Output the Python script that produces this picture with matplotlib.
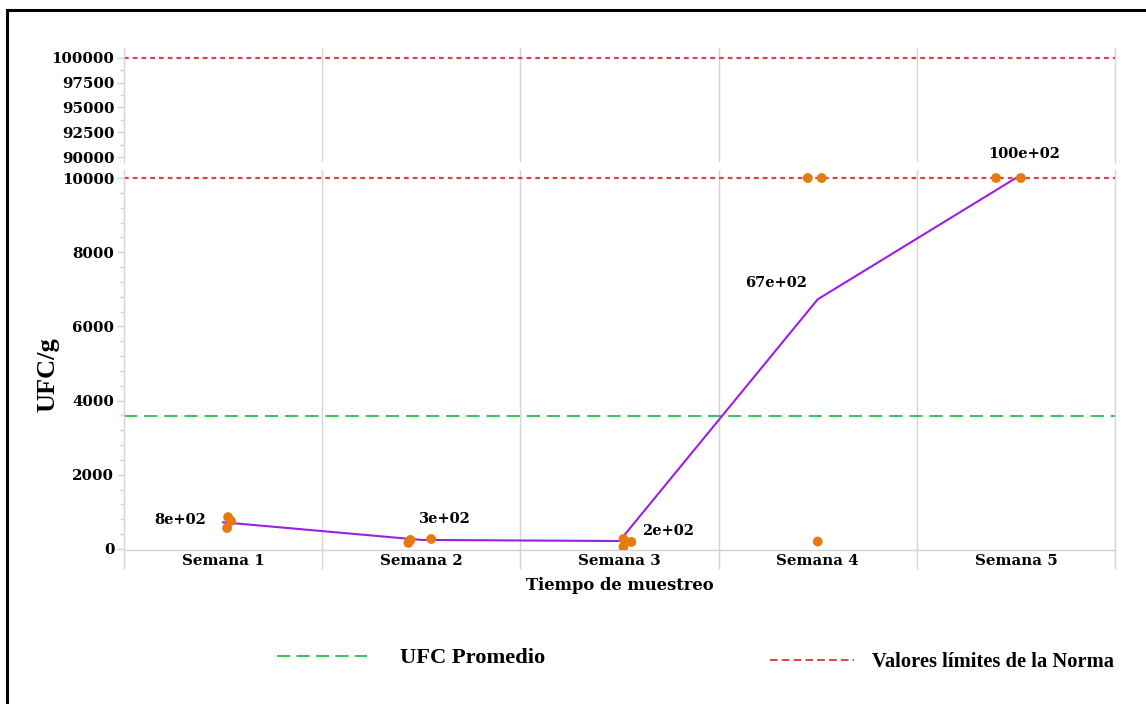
import matplotlib
matplotlib.use("Agg")
import matplotlib.pyplot as plt
from matplotlib.ticker import FixedLocator, MultipleLocator
from matplotlib.patches import Rectangle
from matplotlib.lines import Line2D
import numpy as np

# ---------------- data ----------------
semanas = ["Semana 1", "Semana 2", "Semana 3", "Semana 4", "Semana 5"]
promedio_ufc = [720, 245, 215, 6730, 10000]
etiquetas = ["8e+02", "3e+02", "2e+02", "67e+02", "100e+02"]
muestra_semana = [1, 1, 1, 2, 2, 2, 3, 3, 3, 4, 4, 4, 5, 5]
muestra_ufc = [860, 755, 565, 245, 165, 270, 270, 190, 55, 10000, 10000, 200, 10000, 10000]
muestra_jitter = [0.025, 0.04, 0.02, -0.055, -0.065, 0.05, 0.02, 0.06, 0.02,
                  -0.05, 0.02, 0.0, -0.1, 0.025]
limites_norma = [10000, 100000]
ticks_inf = [0, 2000, 4000, 6000, 8000, 10000]
ticks_sup = [90000, 92500, 95000, 97500, 100000]

ufc_promedio_global = float(np.mean(promedio_ufc))

# ---------------- style ----------------
plt.rcParams["lines.scale_dashes"] = False
W, H = 1146, 704
fig = plt.figure(figsize=(W / 100, H / 100), dpi=100)

def fx(px):
    return px / W

def fy(py):
    return 1 - py / H

GRID = "#D4D4D4"
RED = "#E0404E"
GREEN = "#3DC45A"
PURPLE = "#9B1FE0"
ORANGE = "#E8790E"
TICKFONT = dict(family="DejaVu Serif", weight="bold", size=10.8)

left, right = 124, 1115
ax_top = fig.add_axes([fx(left), fy(162), fx(right) - fx(left), fy(48) - fy(162)])
ax_bot = fig.add_axes([fx(left), fy(550), fx(right) - fx(left), fy(170) - fy(550)])

cats = np.arange(1, len(semanas) + 1)
mx = np.array(muestra_semana) + np.array(muestra_jitter)

for ax in (ax_top, ax_bot):
    ax.set_xlim(0.5, len(semanas) + 0.5)
    ax.spines["top"].set_visible(False)
    for s in ("left", "right", "bottom"):
        ax.spines[s].set_color(GRID)
        ax.spines[s].set_linewidth(1.0)
    for v in np.arange(1.5, len(semanas), 1.0):
        ax.axvline(v, color=GRID, lw=1.0, zorder=0)
    for lim in limites_norma:
        ax.axhline(lim, color=RED, lw=1.6, dashes=(3.4, 2.9), zorder=2)
    ax.axhline(ufc_promedio_global, color=GREEN, lw=1.5, dashes=(9.5, 5.0), zorder=2)
    ax.plot(cats, promedio_ufc, color=PURPLE, lw=1.5, zorder=3)
    ax.scatter(mx, muestra_ufc, s=50, color=ORANGE, edgecolors="none", zorder=4)
    ax.tick_params(axis="y", which="major", direction="out", length=5, width=1,
                   color=GRID, pad=2, labelsize=TICKFONT["size"])
    ax.tick_params(axis="y", which="minor", direction="out", length=3, width=1, color=GRID)

ax_top.spines["bottom"].set_visible(False)
ax_top.set_ylim(89495, 101010)
ax_top.yaxis.set_major_locator(FixedLocator(ticks_sup))
ax_top.yaxis.set_minor_locator(MultipleLocator(1250))
ax_top.set_yticklabels([str(t) for t in ticks_sup], fontdict=TICKFONT)
ax_top.set_xticks([])
ax_top.tick_params(axis="x", which="both", length=0, labelbottom=False)

ax_bot.set_ylim(-27, 10216)
ax_bot.yaxis.set_major_locator(FixedLocator(ticks_inf))
ax_bot.yaxis.set_minor_locator(MultipleLocator(400))
ax_bot.set_yticklabels([str(t) for t in ticks_inf], fontdict=TICKFONT)
ax_bot.set_xticks(cats)
ax_bot.set_xticklabels(semanas, fontdict=TICKFONT)
ax_bot.xaxis.set_minor_locator(FixedLocator(np.arange(0.5, len(semanas) + 1, 1.0)))
ax_bot.tick_params(axis="x", which="major", length=0, pad=3)
ax_bot.tick_params(axis="x", which="minor", length=13.7, width=1, color=GRID, direction="out")

ax_bot.set_xlabel("Tiempo de muestreo", family="DejaVu Serif", weight="bold",
                  size=11.8, va="center")
ax_bot.xaxis.set_label_coords(0.5, -35 / 380)

fig.text(fx(48), fy(375), "UFC/g", rotation=90, ha="center", va="center",
         family="Liberation Serif", weight="bold", size=19)

# data labels (offsets in points)
offsets = [(-31, 2), (17, 15), (35, 7), (-30, 12), (6, 17)]
for x, y, t, off in zip(cats, promedio_ufc, etiquetas, offsets):
    ax_bot.annotate(t, (x, y), xytext=off, textcoords="offset points",
                    ha="center", va="center", family="DejaVu Serif",
                    weight="bold", size=10.5, annotation_clip=False, zorder=5)

# legend
h_green = Line2D([], [], color=GREEN, lw=1.5, dashes=(9.5, 4.5))
h_red = Line2D([], [], color=RED, lw=1.4, dashes=(5.5, 3.0))
fig.legend([h_green], ["UFC Promedio"], loc="center left",
           bbox_to_anchor=(fx(277), fy(658)), frameon=False, borderpad=0,
           borderaxespad=0, handlelength=4.0, handletextpad=1.45,
           prop=dict(family="Liberation Serif", weight="bold", size=16.2))
fig.legend([h_red], ["Valores límites de la Norma"], loc="center left",
           bbox_to_anchor=(fx(770), fy(662)), frameon=False, borderpad=0,
           borderaxespad=0, handlelength=4.1, handletextpad=0.85,
           prop=dict(family="Liberation Serif", weight="bold", size=14.8))

# outer frame
fig.add_artist(Rectangle((fx(7), -0.2), 2.0, fy(10) + 0.2, transform=fig.transFigure,
                         fill=False, edgecolor="black", lw=2.2, clip_on=False))

fig.savefig("out.png", dpi=100)
